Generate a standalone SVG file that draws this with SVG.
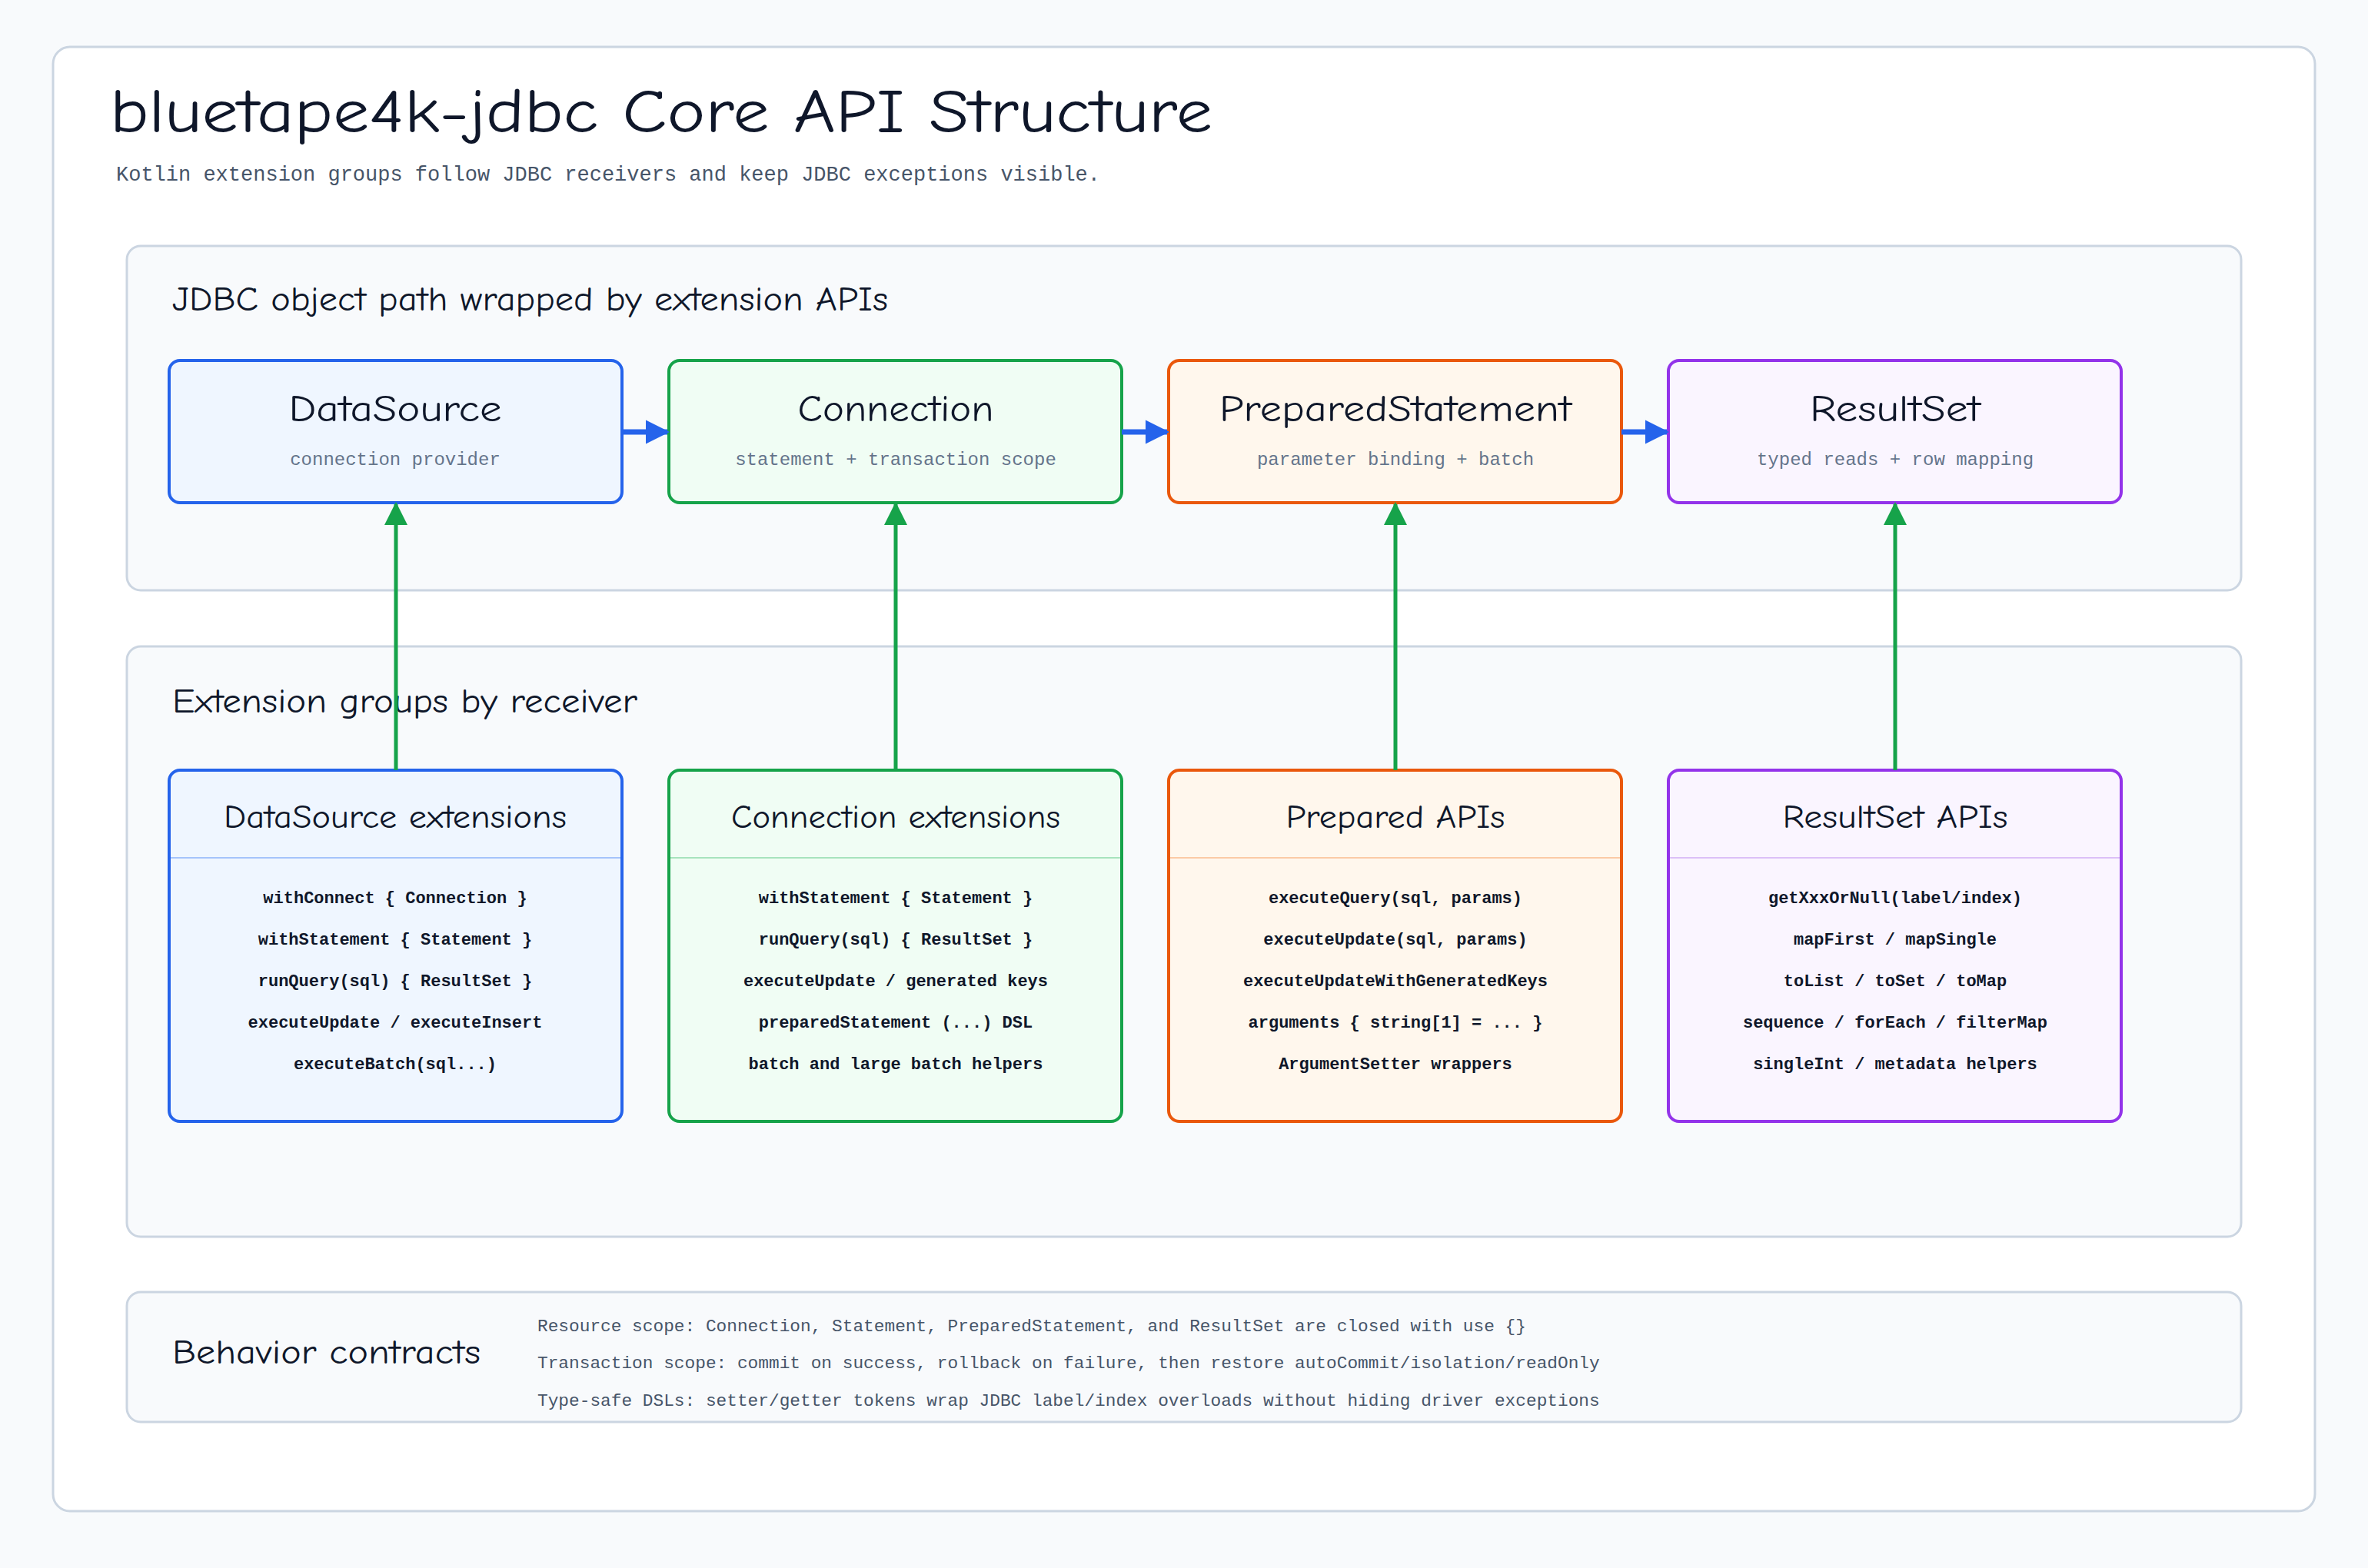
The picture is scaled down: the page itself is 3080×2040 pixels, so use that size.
<svg xmlns="http://www.w3.org/2000/svg" width="3080" height="2040" viewBox="0 0 3080 2040">
<defs>
<marker id="ab" viewBox="0 0 10 10" refX="9" refY="5" markerWidth="4.5" markerHeight="4.5" orient="auto"><path d="M0,0 L10,5 L0,10 z" fill="#2563eb"/></marker>
<marker id="ag" viewBox="0 0 10 10" refX="9" refY="5" markerWidth="6" markerHeight="6" orient="auto"><path d="M0,0 L10,5 L0,10 z" fill="#16a34a"/></marker>
</defs>
<style>
.hand{font-family:"Comic Neue","Liberation Sans","DejaVu Sans",sans-serif;fill:#0f172a}
.mono{font-family:"Liberation Mono","DejaVu Sans Mono",monospace}
.sec{fill:#f8fafc;stroke:#cbd5e1;stroke-width:3}
.t{font-size:48px;text-anchor:middle}
.s{font-size:24px;fill:#64748b;text-anchor:middle}
.h{font-size:42px;text-anchor:middle}
.i{font-size:22px;fill:#0f172a;text-anchor:middle;font-weight:bold}
.c{font-size:22.8px;fill:#475569}
</style>
<rect width="3080" height="2040" fill="#f8fafc"/>
<rect x="69" y="61" width="2942" height="1905" rx="22" fill="#ffffff" stroke="#cbd5e1" stroke-width="3"/>
<text class="hand" x="143" y="172" font-size="80" textLength="1434" lengthAdjust="spacingAndGlyphs">bluetape4k-jdbc Core API Structure</text>
<text class="mono" x="151" y="235" font-size="27" fill="#475569">Kotlin extension groups follow JDBC receivers and keep JDBC exceptions visible.</text>

<rect class="sec" x="165" y="320" width="2750" height="448" rx="18"/>
<text class="hand" x="224" y="404" font-size="44" textLength="931" lengthAdjust="spacingAndGlyphs">JDBC object path wrapped by extension APIs</text>
<rect class="sec" x="165" y="841" width="2750" height="768" rx="18"/>
<text class="hand" x="224" y="927" font-size="44" textLength="605" lengthAdjust="spacingAndGlyphs">Extension groups by receiver</text>
<rect class="sec" x="165" y="1681" width="2750" height="169" rx="18"/>
<text class="hand" x="224" y="1774" font-size="44" textLength="401" lengthAdjust="spacingAndGlyphs">Behavior contracts</text>
<g class="mono c">
<text x="699" y="1732">Resource scope: Connection, Statement, PreparedStatement, and ResultSet are closed with use {}</text>
<text x="699" y="1780">Transaction scope: commit on success, rollback on failure, then restore autoCommit/isolation/readOnly</text>
<text x="699" y="1829">Type-safe DSLs: setter/getter tokens wrap JDBC label/index overloads without hiding driver exceptions</text>
</g>

<g id="n-datasource"><rect x="220" y="469" width="589" height="185" rx="14" fill="#eff6ff" stroke="#2563eb" stroke-width="4"/><text class="hand t" x="514" y="548" textLength="277" lengthAdjust="spacingAndGlyphs">DataSource</text><text class="mono s" x="514" y="605">connection provider</text></g>
<g id="n-connection"><rect x="870" y="469" width="589" height="185" rx="14" fill="#f0fdf4" stroke="#16a34a" stroke-width="4"/><text class="hand t" x="1165" y="548" textLength="255" lengthAdjust="spacingAndGlyphs">Connection</text><text class="mono s" x="1165" y="605">statement + transaction scope</text></g>
<g id="n-prepared"><rect x="1520" y="469" width="589" height="185" rx="14" fill="#fff7ed" stroke="#ea580c" stroke-width="4"/><text class="hand t" x="1815" y="548" textLength="458" lengthAdjust="spacingAndGlyphs">PreparedStatement</text><text class="mono s" x="1815" y="605">parameter binding + batch</text></g>
<g id="n-resultset"><rect x="2170" y="469" width="589" height="185" rx="14" fill="#faf5ff" stroke="#9333ea" stroke-width="4"/><text class="hand t" x="2465" y="548" textLength="222" lengthAdjust="spacingAndGlyphs">ResultSet</text><text class="mono s" x="2465" y="605">typed reads + row mapping</text></g>

<g id="n-ds-ext"><rect x="220" y="1002" width="589" height="457" rx="14" fill="#eff6ff" stroke="#2563eb" stroke-width="4"/><line x1="222" y1="1116" x2="807" y2="1116" stroke="#a5c4fb" stroke-width="2"/><text class="hand h" x="514" y="1077" textLength="446" lengthAdjust="spacingAndGlyphs">DataSource extensions</text>
<g class="mono i"><text x="514" y="1175">withConnect { Connection }</text><text x="514" y="1229">withStatement { Statement }</text><text x="514" y="1283">runQuery(sql) { ResultSet }</text><text x="514" y="1337">executeUpdate / executeInsert</text><text x="514" y="1391">executeBatch(sql...)</text></g></g>
<g id="n-conn-ext"><rect x="870" y="1002" width="589" height="457" rx="14" fill="#f0fdf4" stroke="#16a34a" stroke-width="4"/><line x1="872" y1="1116" x2="1457" y2="1116" stroke="#a7e3bd" stroke-width="2"/><text class="hand h" x="1165" y="1077" textLength="428" lengthAdjust="spacingAndGlyphs">Connection extensions</text>
<g class="mono i"><text x="1165" y="1175">withStatement { Statement }</text><text x="1165" y="1229">runQuery(sql) { ResultSet }</text><text x="1165" y="1283">executeUpdate / generated keys</text><text x="1165" y="1337">preparedStatement (...) DSL</text><text x="1165" y="1391">batch and large batch helpers</text></g></g>
<g id="n-prep-ext"><rect x="1520" y="1002" width="589" height="457" rx="14" fill="#fff7ed" stroke="#ea580c" stroke-width="4"/><line x1="1522" y1="1116" x2="2107" y2="1116" stroke="#fbcaa6" stroke-width="2"/><text class="hand h" x="1815" y="1077" textLength="285" lengthAdjust="spacingAndGlyphs">Prepared APIs</text>
<g class="mono i"><text x="1815" y="1175">executeQuery(sql, params)</text><text x="1815" y="1229">executeUpdate(sql, params)</text><text x="1815" y="1283">executeUpdateWithGeneratedKeys</text><text x="1815" y="1337">arguments { string[1] = ... }</text><text x="1815" y="1391">ArgumentSetter wrappers</text></g></g>
<g id="n-rs-ext"><rect x="2170" y="1002" width="589" height="457" rx="14" fill="#faf5ff" stroke="#9333ea" stroke-width="4"/><line x1="2172" y1="1116" x2="2757" y2="1116" stroke="#dcc0f7" stroke-width="2"/><text class="hand h" x="2465" y="1077" textLength="293" lengthAdjust="spacingAndGlyphs">ResultSet APIs</text>
<g class="mono i"><text x="2465" y="1175">getXxxOrNull(label/index)</text><text x="2465" y="1229">mapFirst / mapSingle</text><text x="2465" y="1283">toList / toSet / toMap</text><text x="2465" y="1337">sequence / forEach / filterMap</text><text x="2465" y="1391">singleInt / metadata helpers</text></g></g>

<g id="connectors" fill="none">
<g stroke="#2563eb" stroke-width="7" marker-end="url(#ab)">
<line x1="809" y1="562" x2="868" y2="562"/><line x1="1459" y1="562" x2="1518" y2="562"/><line x1="2109" y1="562" x2="2168" y2="562"/>
</g>
<g stroke="#16a34a" stroke-width="5" marker-end="url(#ag)">
<line x1="515" y1="1002" x2="515" y2="656"/><line x1="1165" y1="1002" x2="1165" y2="656"/><line x1="1815" y1="1002" x2="1815" y2="656"/><line x1="2465" y1="1002" x2="2465" y2="656"/>
</g>
</g>
</svg>
